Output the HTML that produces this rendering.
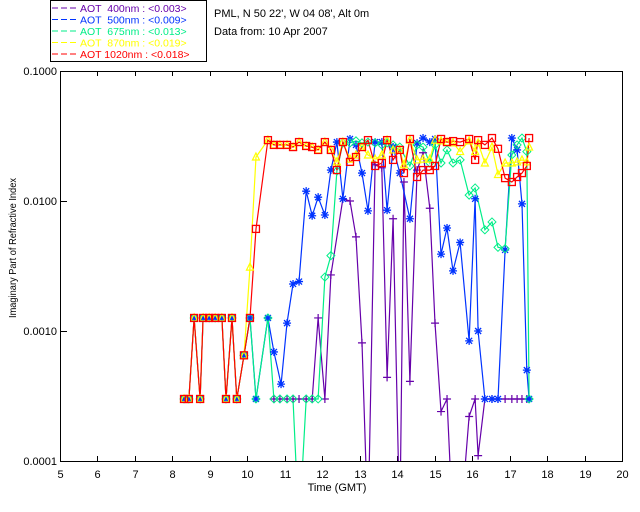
<!DOCTYPE html>
<html><head><meta charset="utf-8"><style>
html,body{margin:0;padding:0;background:#fff;}
svg{display:block;font-family:"Liberation Sans",sans-serif;}
</style></head><body>
<svg id="chart" width="640" height="512" viewBox="0 0 640 512">
<defs><clipPath id="plotclip"><rect x="60" y="71" width="562" height="390"/></clipPath></defs>
<g id="legend">
<rect x="50.5" y="0.5" width="156" height="61" fill="#fff" stroke="#000"/>
</g>
<text x="214" y="17" font-size="11" fill="#000">PML, N 50 22', W 04 08', Alt 0m</text>
<text x="214" y="35" font-size="11" fill="#000">Data from: 10 Apr 2007</text>
<g id="axes"></g>
<g id="series" clip-path="url(#plotclip)"></g>
<g id="markers"></g>
</svg>
<script>
const xTicks=[5,6,7,8,9,10,11,12,13,14,15,16,17,18,19,20];
const yTicks=[0.0001,0.001,0.01,0.1];
const yTickLabels=["0.0001","0.0010","0.0100","0.1000"];
const seriesNames=["AOT  400nm : <0.003>","AOT  500nm : <0.009>","AOT  675nm : <0.013>","AOT  870nm : <0.019>","AOT 1020nm : <0.018>"];
const seriesColors=["#6600aa","#0033ff","#00ee88","#ffff00","#ff0000"];

const t400=[10.71,10.87,11.06,11.22,11.38,11.57,11.73,11.89,12.07,12.23,12.55,12.74,12.9,13.06,13.22,13.41,13.59,13.73,13.89,14.07,14.18,14.34,14.53,14.69,14.87,15.01,15.17,15.33,15.49,15.68,15.92,16.08,16.16,16.34,16.53,16.69,16.88,17.06,17.2,17.33,17.46,17.52];
const v400=[3e-4,3e-4,3e-4,3e-4,3e-4,3e-4,3e-4,1.26e-3,3e-4,2.7e-3,1.04e-2,1.0e-2,5.3e-3,8.1e-4,3e-5,1.9e-2,1.8e-2,4.4e-4,7.3e-3,3e-5,1.4e-2,4.1e-4,1.73e-2,2.35e-2,8.8e-3,1.15e-3,2.4e-4,3e-4,3e-5,3e-5,2.2e-4,3e-4,1.1e-4,3e-4,3e-4,3e-4,3e-4,3e-4,3e-4,3e-4,3e-4,3e-4];

const t500=[8.31,8.44,8.58,8.74,8.82,8.98,9.14,9.32,9.43,9.59,9.72,9.91,10.07,10.23,10.55,10.71,10.9,11.06,11.22,11.38,11.57,11.73,11.89,12.07,12.23,12.39,12.55,12.74,12.9,13.06,13.22,13.41,13.59,13.73,13.89,14.07,14.34,14.53,14.69,14.87,15.01,15.17,15.33,15.49,15.68,15.92,16.08,16.16,16.34,16.53,16.69,16.88,17.06,17.2,17.33,17.46,17.52];
const v500=[3e-4,3e-4,1.26e-3,3e-4,1.26e-3,1.26e-3,1.26e-3,1.26e-3,3e-4,1.26e-3,3e-4,6.5e-4,1.26e-3,3e-4,1.26e-3,6.9e-4,3.9e-4,1.15e-3,2.3e-3,2.4e-3,1.19e-2,7.7e-3,1.07e-2,7.8e-3,1.73e-2,2.84e-2,1.04e-2,3.0e-2,2.7e-2,1.64e-2,8.4e-3,2.84e-2,2.84e-2,8.5e-3,2.6e-2,1.64e-2,7.3e-3,2.79e-2,3.05e-2,2.84e-2,3.0e-2,3.9e-3,6.2e-3,2.9e-3,4.8e-3,8.4e-4,1.04e-2,1.0e-3,3e-4,3e-4,3e-4,4.2e-3,3.05e-2,2.47e-2,9.5e-3,5e-4,3e-4];

const t675=[8.31,8.44,8.58,8.74,8.82,8.98,9.14,9.32,9.43,9.59,9.72,9.91,10.07,10.23,10.55,10.71,10.87,11.06,11.22,11.38,11.57,11.73,11.89,12.07,12.23,12.39,12.55,12.74,12.9,13.06,13.22,13.41,13.59,13.73,13.89,14.07,14.34,14.53,14.69,14.87,15.01,15.17,15.33,15.49,15.68,15.92,16.08,16.34,16.53,16.69,16.88,17.06,17.2,17.33,17.46,17.52];
const v675=[3e-4,3e-4,1.26e-3,3e-4,1.26e-3,1.26e-3,1.26e-3,1.26e-3,3e-4,1.26e-3,3e-4,6.5e-4,1.26e-3,3e-4,1.26e-3,3e-4,3e-4,3e-4,3e-4,3e-5,3e-4,3e-4,3e-4,2.6e-3,3.8e-3,1.7e-2,2.8e-2,2.8e-2,2.9e-2,2.8e-2,2.84e-2,2.8e-2,2.7e-2,2.8e-2,2.7e-2,2.6e-2,1.86e-2,2.7e-2,2.6e-2,1.96e-2,2.7e-2,1.96e-2,2.47e-2,1.96e-2,2.07e-2,1.11e-2,1.26e-2,6.0e-3,6.9e-3,4.4e-3,4.3e-3,2.26e-2,2.7e-2,3.05e-2,2.4e-2,3e-4];

const t870=[8.31,8.44,8.58,8.74,8.82,8.98,9.14,9.32,9.43,9.59,9.72,9.91,10.07,10.23,10.55,10.71,10.87,11.06,11.22,11.38,11.57,11.73,11.89,12.07,12.23,12.39,12.55,12.74,12.9,13.06,13.22,13.41,13.59,13.73,13.89,14.07,14.18,14.34,14.53,14.69,14.87,15.01,15.17,15.33,15.49,15.68,15.92,16.08,16.16,16.34,16.53,16.69,16.88,17.06,17.2,17.33,17.46,17.52];
const v870=[3e-4,3e-4,1.26e-3,3e-4,1.26e-3,1.26e-3,1.26e-3,1.26e-3,3e-4,1.26e-3,3e-4,6.5e-4,3.1e-3,2.18e-2,2.94e-2,2.7e-2,2.7e-2,2.7e-2,2.6e-2,2.84e-2,2.65e-2,2.6e-2,2.47e-2,2.84e-2,2.47e-2,2.0e-2,2.84e-2,2.1e-2,2.26e-2,2.6e-2,2.26e-2,2.1e-2,2.26e-2,2.94e-2,2.47e-2,2.47e-2,1.9e-2,2.94e-2,2.07e-2,2.1e-2,2.1e-2,2.94e-2,2.9e-2,2.84e-2,2.8e-2,2.4e-2,2.9e-2,2.4e-2,2.8e-2,1.96e-2,2.6e-2,1.6e-2,1.96e-2,1.96e-2,2.0e-2,2.07e-2,2.0e-2,2.6e-2];

const t1020=[8.31,8.44,8.58,8.74,8.82,8.98,9.14,9.32,9.43,9.59,9.72,9.91,10.07,10.23,10.55,10.71,10.87,11.06,11.22,11.38,11.57,11.73,11.89,12.07,12.23,12.39,12.55,12.74,12.9,13.06,13.22,13.41,13.59,13.73,13.89,14.07,14.18,14.34,14.53,14.69,14.87,15.01,15.17,15.33,15.49,15.68,15.92,16.08,16.16,16.34,16.53,16.69,16.88,17.06,17.2,17.33,17.46,17.52];
const v1020=[3e-4,3e-4,1.26e-3,3e-4,1.26e-3,1.26e-3,1.26e-3,1.26e-3,3e-4,1.26e-3,3e-4,6.5e-4,1.26e-3,6.1e-3,2.94e-2,2.7e-2,2.7e-2,2.7e-2,2.6e-2,2.84e-2,2.65e-2,2.6e-2,2.47e-2,2.84e-2,2.47e-2,1.73e-2,2.84e-2,2.0e-2,2.18e-2,2.6e-2,2.94e-2,1.86e-2,1.96e-2,2.94e-2,2.07e-2,2.47e-2,1.64e-2,3.0e-2,1.53e-2,1.73e-2,1.73e-2,1.86e-2,3.0e-2,2.84e-2,2.89e-2,2.84e-2,3.0e-2,2.07e-2,2.94e-2,2.7e-2,3.05e-2,2.52e-2,1.5e-2,1.4e-2,1.53e-2,1.64e-2,1.86e-2,3.05e-2];

const NS="http://www.w3.org/2000/svg";
const X0=60,X1=622,Y0=461,Y1=71;
function xs(h){return X0+(h-5)*(X1-X0)/15;}
function ys(v){return Y0-(Math.log10(v)+4)*(Y0-Y1)/3;}
function mk(tag,attrs,parent){const e=document.createElementNS(NS,tag);for(const k in attrs)e.setAttribute(k,attrs[k]);parent.appendChild(e);return e;}

const axes=document.getElementById('axes');
const frame=mk('path',{d:`M${X0+.5},${Y1+.5}H${X1+.5}V${Y0+.5}H${X0+.5}Z`,fill:'none',stroke:'#000','stroke-width':1},axes);


xTicks.forEach(h=>{
  const x=Math.round(xs(h))+.5;
  const tb=mk('line',{x1:x,x2:x,y1:Y0,y2:Y0-5,stroke:'#000'},axes);
  
  
  const tt=mk('line',{x1:x,x2:x,y1:Y1,y2:Y1+5,stroke:'#000'},axes);
  
  
  const lb=mk('text',{x:x,y:478,'font-size':11,'text-anchor':'middle',fill:'#000'},axes);
  lb.textContent=String(h);
  
  
});
yTicks.forEach((v,i)=>{
  const y=Math.round(ys(v))+.5;
  const tk=mk('line',{x1:X0,x2:X0+7,y1:y,y2:y,stroke:'#000'},axes);
  
  
  const lb=mk('text',{x:57,y:ys(v)+4,'font-size':11,'text-anchor':'end',fill:'#000'},axes);
  lb.textContent=yTickLabels[i];
  
  
});
const xt=mk('text',{x:337,y:491,'font-size':11,'text-anchor':'middle',fill:'#000'},axes);
xt.textContent='Time (GMT)';


const yt=mk('text',{x:0,y:0,'font-size':10,'text-anchor':'middle',fill:'#000',textLength:140,lengthAdjust:'spacingAndGlyphs',transform:'translate(16,248) rotate(-90)'},axes);
yt.textContent='Imaginary Part of Refractive Index';



const legend=document.getElementById('legend');
seriesNames.forEach((n,i)=>{
  const y=8+i*11.5;
  const ln=mk('line',{x1:52,x2:76,y1:y,y2:y,stroke:seriesColors[i],'stroke-dasharray':'6,3'},legend);
  
  
  const tx=mk('text',{x:80,y:y+4,'font-size':10.5,fill:seriesColors[i]},legend);
  tx.setAttribute('style','white-space:pre');
  tx.textContent=n;
  
  
});

const sg=document.getElementById('series');
const mg=document.getElementById('markers');
const all=[[t400,v400,'plus'],[t500,v500,'star'],[t675,v675,'diamond'],[t870,v870,'tri'],[t1020,v1020,'square']];
all.forEach((s,i)=>{
  const [T,V,shape]=s;const c=seriesColors[i];
  const d=T.map((t,j)=>(j?'L':'M')+xs(t).toFixed(1)+','+ys(V[j]).toFixed(1)).join('');
  const p=mk('path',{d:d,fill:'none',stroke:c,'stroke-width':1.2},sg);
  
  
  T.forEach((t,j)=>{
    const v=V[j];if(v<1e-4||v>0.1)return;
    const x=xs(t),y=ys(v);let m;
    if(shape==='square')m=mk('rect',{x:x-3.5,y:y-3.5,width:7,height:7,fill:'none',stroke:c,'stroke-width':1.3},mg);
    else if(shape==='tri')m=mk('path',{d:`M${x},${y-4}L${x+3.5},${y+3}L${x-3.5},${y+3}Z`,fill:'none',stroke:c,'stroke-width':1.2},mg);
    else if(shape==='diamond')m=mk('path',{d:`M${x},${y-4}L${x+4},${y}L${x},${y+4}L${x-4},${y}Z`,fill:'none',stroke:c,'stroke-width':1},mg);
    else if(shape==='star')m=mk('path',{d:`M${x-4},${y}H${x+4}M${x},${y-4}V${y+4}M${x-3},${y-3}L${x+3},${y+3}M${x-3},${y+3}L${x+3},${y-3}`,stroke:c,'stroke-width':1.3},mg);
    else m=mk('path',{d:`M${x-4},${y}H${x+4}M${x},${y-4}V${y+4}`,stroke:c,'stroke-width':1.2},mg);
    
    
  });
});
</script>
</body></html>
